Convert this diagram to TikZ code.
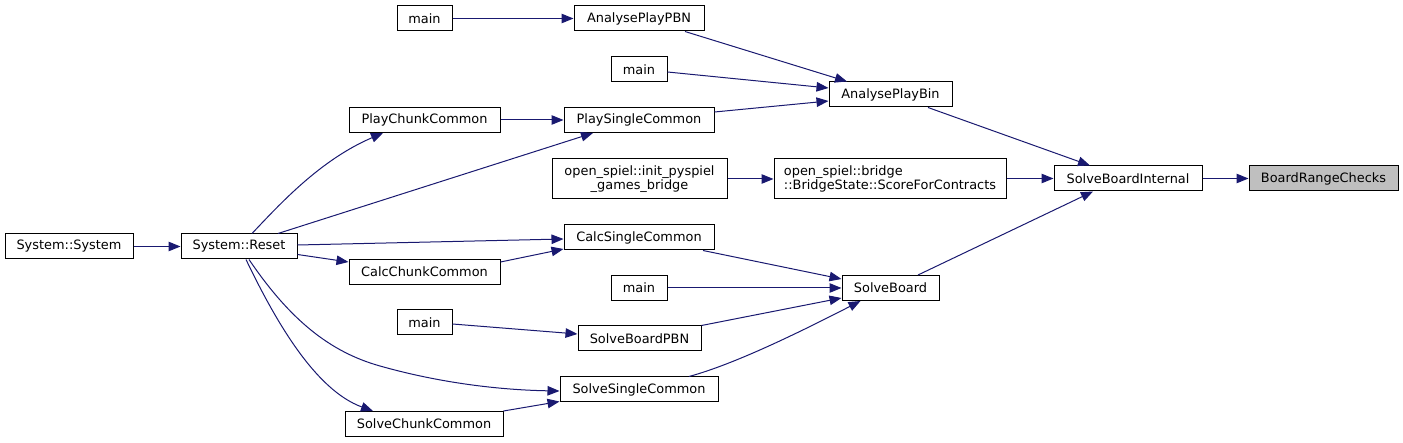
\documentclass[tikz,border=0pt]{standalone}
\usepackage{fontspec}
\setmainfont{DejaVu Sans}
\usetikzlibrary{arrows.meta}
\definecolor{edgeblue}{HTML}{191970}
\definecolor{hlgray}{HTML}{BFBFBF}
\begin{document}
\begin{tikzpicture}[x=1pt,y=-1pt,
  fn/.style={draw=black,line width=1pt,fill=white,inner sep=0pt,minimum height=25pt,
    font=\fontsize{12.9}{14}\selectfont},
  fn2/.style={fn,minimum height=40pt},
  hl/.style={fn,fill=hlgray},
  call/.style={draw=edgeblue,line width=1pt,-{Triangle[length=12pt,width=9.5pt]},color=edgeblue}]
\useasboundingbox (0,0) rectangle (1403,443);
% nodes
\node[fn,minimum width=55pt] (m1) at (424.5,18.5) {main};
\node[fn,minimum width=130pt] (APPBN) at (639,18.5) {AnalysePlayPBN};
\node[fn,minimum width=56pt] (m2) at (639,69.5) {main};
\node[fn,minimum width=123pt] (APB) at (890.5,94.5) {AnalysePlayBin};
\node[fn,minimum width=151pt] (PCC) at (424.5,120) {PlayChunkCommon};
\node[fn,minimum width=150pt] (PSC) at (639,120) {PlaySingleCommon};
\node[fn2,minimum width=175pt,align=center] (init) at (639.5,179) {open\_spiel::init\_pyspiel\\\_games\_bridge};
\node[fn2,minimum width=232pt,align=left] (bridge) at (890,179) {open\_spiel::bridge\\::BridgeState::ScoreForContracts};
\node[fn,minimum width=148pt] (SBI) at (1128,178.5) {SolveBoardInternal};
\node[hl,minimum width=149pt] (BRC) at (1323.5,178.5) {BoardRangeChecks};
\node[fn,minimum width=128pt] (SysSys) at (69,246.5) {System::System};
\node[fn,minimum width=116pt] (Reset) at (239,246.5) {System::Reset};
\node[fn,minimum width=150pt] (CSC) at (639,237.5) {CalcSingleCommon};
\node[fn,minimum width=151pt] (CCC) at (424.5,272) {CalcChunkCommon};
\node[fn,minimum width=56pt] (m4) at (639,288) {main};
\node[fn,minimum width=97pt] (SB) at (890.5,288) {SolveBoard};
\node[fn,minimum width=55pt] (m3) at (424.5,322.5) {main};
\node[fn,minimum width=123pt] (SBPBN) at (639.5,338.5) {SolveBoardPBN};
\node[fn,minimum width=158pt] (SSC) at (639,389.5) {SolveSingleCommon};
\node[fn,minimum width=158pt] (SCC) at (424,424) {SolveChunkCommon};
% edges
\draw[call] (m1.east) -- (APPBN.west);
\draw[call] ([xshift=46pt]APPBN.south) -- ([xshift=-43.5pt]APB.north);
\draw[call] ([yshift=-2.5pt]m2.east) -- ([yshift=6.5pt]APB.west);
\draw[call] ([yshift=8pt]PSC.east) -- ([yshift=-6.5pt]APB.west);
\draw[call] ([xshift=37.5pt]APB.south) -- ([xshift=-38pt]SBI.north);
\draw[call] (bridge.east |- SBI.west) -- (SBI.west);
\draw[call] ([xshift=27.5pt]SB.north) -- ([xshift=-35pt]SBI.south);
\draw[call] (SBI.east) -- (BRC.west);
\draw[call] (init.east) -- (bridge.west);
\draw[call] (PCC.east) -- (PSC.west);
\draw[call] ([xshift=13pt]Reset.north) .. controls (280,204) and (320,160) .. ([xshift=-41.5pt]PCC.south);
\draw[call] ([xshift=39pt]Reset.north) -- ([xshift=-46pt]PSC.south);
\draw[call] (SysSys.east) -- (Reset.west);
\draw[call] ([yshift=1.5pt]Reset.east) -- ([yshift=-1.5pt]CSC.west);
\draw[call] ([yshift=-8pt]Reset.east) -- ([yshift=10pt]CCC.west);
\draw[call] ([yshift=10pt]CCC.east) -- ([yshift=-11.5pt]CSC.west);
\draw[call] ([xshift=64pt]CSC.south) -- ([yshift=9pt]SB.west);
\draw[call] (m4.east) -- (SB.west);
\draw[call] ([xshift=62pt]SBPBN.north) -- ([yshift=-10pt]SB.west);
\draw[call] ([xshift=50pt]SSC.north) .. controls (735,364) and (800,332) .. ([xshift=-30pt]SB.south);
\draw[call] ([yshift=-1.5pt]m3.east) -- ([yshift=4.5pt]SBPBN.west);
\draw[call] ([xshift=10pt]Reset.south) .. controls (290,320) and (330,352) .. (380,366) .. controls (440,383) and (500,390) .. ([yshift=-1.5pt]SSC.west);
\draw[call] ([xshift=7pt]Reset.south) .. controls (275,320) and (315,390) .. ([xshift=-51pt]SCC.north);
\draw[call] (SCC.north east) -- ([yshift=1pt]SSC.south west);
\end{tikzpicture}
\end{document}
